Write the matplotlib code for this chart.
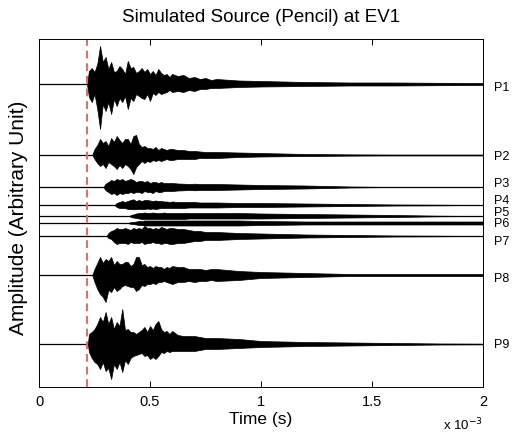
import matplotlib
matplotlib.use("Agg")
import matplotlib.pyplot as plt
import matplotlib.transforms as mtransforms
import numpy as np

plt.rcParams["font.family"] = ["Liberation Sans", "DejaVu Sans"]

# time grid of the envelope readings (ms)
t_ms = [0.0, 0.2, 0.2125, 0.225, 0.2375, 0.25, 0.2625, 0.275, 0.2875, 0.3, 0.3125, 0.325, 0.3375,
        0.35, 0.3625, 0.375, 0.3875, 0.4, 0.4125, 0.425, 0.4375, 0.45, 0.4625, 0.475, 0.4875,
        0.5, 0.5125, 0.525, 0.5375, 0.55, 0.5625, 0.575, 0.5875, 0.6, 0.625, 0.65, 0.675, 0.7,
        0.725, 0.75, 0.775, 0.8, 0.9, 1.0, 1.2, 1.4, 1.6, 1.8, 2.0]

labels = ["P1", "P2", "P3", "P4", "P5", "P6", "P7", "P8", "P9"]
offsets = [303, 232, 200, 182, 171, 164, 151, 112, 43]
label_y = [299.7, 231.3, 204, 187, 175, 164, 146.3, 109, 43]
onset_ms = [0.216, 0.24, 0.29, 0.34, 0.41, 0.40, 0.305, 0.24, 0.22]

# upper envelope of each trace (arbitrary units)
env_up = [
    [0, 0, 0, 13, 16, 12, 20, 38, 22, 27, 15, 22, 12, 13, 18, 15, 10, 23, 16, 17, 11, 13, 16, 12, 15,
     10, 13, 9, 15, 11, 9, 10, 7, 10, 8, 9, 6, 7, 5, 6, 4, 5, 3.5, 3, 2, 1.5, 1.5, 1.2, 1],
    [0, 0, 0, 0, 0, 6, 10, 16, 12, 14, 9, 17, 13, 19, 15, 12, 16, 16, 11, 19, 20, 11, 8, 9, 7,
     7, 6, 8, 5, 7, 6, 5, 6, 6, 5, 5, 4, 4, 3.5, 3, 3, 3, 2.5, 2, 1, 0.6, 0.4, 0.4, 0.4],
    [0, 0, 0, 0, 0, 0, 0, 0, 0, 3.3, 5, 7, 6, 8, 7, 8, 6, 7, 8, 7, 5, 6, 6, 5, 6,
     4, 5, 5, 4, 5, 4, 4, 4, 4, 3.5, 3.3, 3, 3.3, 3, 3, 3, 3, 2.5, 2, 1.5, 0.5, 0, 0, 0],
    [0, 0, 0, 0, 0, 0, 0, 0, 0, 0, 0, 0, 0, 2, 3, 4, 3, 4, 5, 5.7, 4, 5, 4, 5, 5,
     4.5, 4, 4.5, 4, 4, 3.5, 3.5, 3, 3.5, 3, 3, 3, 3, 2.5, 2.5, 2.5, 2.5, 2, 2, 1.5, 1, 0.5, 0.3, 0],
    [0, 0, 0, 0, 0, 0, 0, 0, 0, 0, 0, 0, 0, 0, 0, 0, 0, 0, 1, 1.5, 2.5, 3, 3, 3.5, 3,
     3, 3.5, 3, 3, 3, 3.5, 3, 3, 3, 3, 3, 3, 3, 3, 3, 3, 3, 3, 2.5, 2, 1.5, 1, 0.3, 0],
    [0, 0, 0, 0, 0, 0, 0, 0, 0, 0, 0, 0, 0, 0, 0, 0, 0, 0, 0.8, 1, 1.5, 2, 2, 2.5, 2.5,
     2.5, 2.5, 2.5, 2.5, 2.5, 2.5, 2.5, 2.5, 2.5, 2.5, 2.5, 2.5, 2.5, 2.5, 2.5, 2.5, 2.5, 2.5, 2, 1.5, 1.5, 1.5, 1.5, 1.5],
    [0, 0, 0, 0, 0, 0, 0, 0, 0, 0, 3, 5, 6, 8, 7, 7, 8, 7, 6, 8, 7, 8, 7, 10, 8,
     8, 7, 8, 7, 9, 8, 7, 8, 8, 7, 7, 6, 5, 5, 4, 4, 4, 3, 2.5, 1.5, 1, 0.5, 0.3, 0],
    [0, 0, 0, 0, 0, 6, 12, 18, 12, 16, 14, 18, 10, 14, 11, 11, 13, 13, 9, 11, 18, 18, 10, 11, 8,
     9, 7, 9, 8, 8, 6, 8, 7, 9, 8, 8, 6, 6, 6, 5, 6, 6, 4, 3, 2, 1, 1, 1, 1],
    [0, 0, 0, 10, 12, 15, 20, 27, 22, 32, 20, 27, 15, 22, 18, 35, 14, 15, 12, 12, 10, 12, 14, 17, 12,
     18, 14, 20, 23, 15, 12, 13, 10, 13, 9, 8, 8, 8, 7, 6, 6, 6, 5, 3, 2, 1.5, 1, 0.5, 0.3],
]

# lower envelope of each trace (arbitrary units, drawn below the baseline)
env_lo = [
    [0, 0, 0, 13, 18, 10, 25, 45, 20, 27, 18, 30, 15, 22, 14, 18, 12, 25, 14, 17, 10, 12, 14, 15, 10,
     17, 9, 11, 8, 10, 9, 8, 6, 8, 7, 8, 6, 7, 5, 5, 4, 4, 3, 2.5, 2, 1.5, 1.5, 1.2, 1],
    [0, 0, 0, 0, 0, 4, 8, 11, 9, 13, 7, 9, 11, 14, 10, 13, 9, 11, 14, 19, 12, 9, 6, 8, 6,
     7, 5, 6, 5, 6, 5, 4, 5, 5, 4, 4, 4, 4, 3, 3, 3, 3, 2, 1.5, 1, 0.6, 0.4, 0.4, 0.4],
    [0, 0, 0, 0, 0, 0, 0, 0, 0, 3.3, 5, 7, 6, 8, 6, 7, 6, 6, 5, 6, 5, 5, 6, 4, 5,
     5, 6, 4, 5, 5, 4, 4, 4, 4, 3.5, 3.3, 3, 3.3, 3, 3, 3, 3, 2.5, 2, 1.5, 0.5, 0, 0, 0],
    [0, 0, 0, 0, 0, 0, 0, 0, 0, 0, 0, 0, 0, 2, 3, 3, 3, 4, 4, 4.3, 4, 4, 4, 4, 3.5,
     4, 3.5, 4, 3.5, 3, 3, 3, 3, 3, 3, 3, 2.5, 2.5, 2.5, 2.5, 2.5, 2.5, 2, 2, 1.5, 1, 0.5, 0.3, 0],
    [0, 0, 0, 0, 0, 0, 0, 0, 0, 0, 0, 0, 0, 0, 0, 0, 0, 0, 1, 1.5, 2, 2.5, 3, 3, 3,
     3, 3, 3, 3, 3, 3, 3, 3, 3, 3, 3, 2.5, 2.5, 2.5, 2.5, 2.5, 2.5, 2.5, 2.5, 2, 1.5, 1, 0.3, 0],
    [0, 0, 0, 0, 0, 0, 0, 0, 0, 0, 0, 0, 0, 0, 0, 0, 0, 0, 0.8, 1, 1.5, 2, 2, 2.5, 2.5,
     2.5, 2.5, 2.5, 2.5, 2.5, 2.5, 2.5, 2.5, 2.5, 2.5, 2.5, 2.5, 2.5, 2.5, 2.5, 2.5, 2.5, 2.5, 2, 1.5, 1.5, 1.5, 1.5, 1.5],
    [0, 0, 0, 0, 0, 0, 0, 0, 0, 0, 2, 3, 6, 8, 7, 7, 7, 8, 6, 7, 7, 7, 6, 8, 7,
     7, 6, 7, 7, 8, 7, 7, 8, 8, 7, 7, 6, 5, 5, 4, 4, 4, 3, 2.5, 1.5, 1, 0.5, 0.3, 0],
    [0, 0, 0, 0, 0, 7, 14, 19, 22, 27, 15, 17, 12, 16, 14, 11, 10, 11, 12, 12, 16, 14, 10, 11, 9,
     9, 8, 9, 7, 7, 6, 7, 8, 9, 7, 7, 6, 7, 6, 6, 5, 6, 5, 3, 2, 1, 1, 1, 1],
    [0, 0, 0, 8, 14, 18, 20, 25, 18, 27, 24, 35, 20, 25, 18, 28, 16, 20, 14, 12, 11, 10, 9, 12, 11,
     15, 13, 15, 12, 8, 9, 7, 8, 7, 7, 7, 7, 7, 6, 5, 5, 5, 4, 3, 2, 1.5, 1, 0.5, 0.3],
]

trigger_ms = 0.215

fig = plt.figure(figsize=(5.17, 4.35), dpi=100)
ax = fig.add_axes([39 / 517, 47 / 435, 444 / 517, 348 / 435])

t_arr = np.array(t_ms)
for i in range(len(labels)):
    up = np.array(env_up[i])
    lo = np.array(env_lo[i])
    mask = t_arr > onset_ms[i]
    tt = np.concatenate([[0.0, onset_ms[i]], t_arr[mask]]) * 1e-3
    uu = np.concatenate([[0, 0], up[mask]])
    ll = np.concatenate([[0, 0], lo[mask]])
    ax.axhline(offsets[i], color="black", lw=0.9)
    ax.fill_between(tt, offsets[i] + uu, offsets[i] - ll, color="black", lw=0.5)

ax.axvline(trigger_ms * 1e-3, color="#f06464", lw=1.4, linestyle=(0, (4, 2.5)))

trans = mtransforms.blended_transform_factory(ax.transAxes, ax.transData)
for lab, yy in zip(labels, label_y):
    ax.text(1.025, yy, lab, transform=trans, ha="left", va="center", fontsize=9)

ax.set_xlim(0, 2e-3)
ax.set_ylim(0, 348)
ax.set_xticks([0, 0.5e-3, 1e-3, 1.5e-3, 2e-3])
ax.set_xticklabels(["0", "0.5", "1", "1.5", "2"])
ax.set_yticks([])
ax.tick_params(axis="x", direction="in", top=True, length=4, width=0.7, pad=5, labelsize=10.5)
for sp in ax.spines.values():
    sp.set_linewidth(0.7)

ax.set_title("Simulated Source (Pencil) at EV1", fontsize=13.5, pad=13)
ax.set_xlabel("Time (s)", fontsize=12.5, labelpad=2)
ax.set_ylabel("Amplitude (Arbitrary Unit)", fontsize=15, labelpad=8, y=0.49)
fig.text(443 / 517, 1 - 430 / 435, "x 10$^{-3}$", fontsize=9.5, ha="left", va="baseline")

fig.savefig("out.png", dpi=100, facecolor="white")
